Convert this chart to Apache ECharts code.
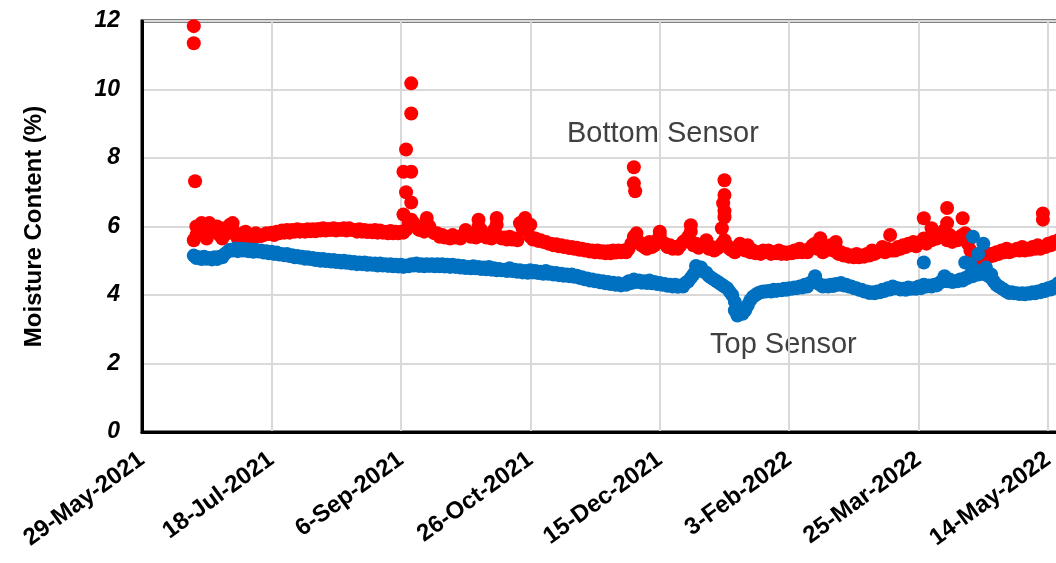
<!DOCTYPE html>
<html>
<head>
<meta charset="utf-8">
<script src="https://cdn.jsdelivr.net/npm/echarts@6/dist/echarts.min.js"></script>
<style>
  html, body { margin: 0; padding: 0; background: #fff; }
  #chart { width: 1056px; height: 563px; }
</style>
</head>
<body>
<div id="chart"></div>
<script>
// days counted from 29-May-2021; main readings on even days from day 20,
// second readings on odd days from day 21
const startDay = 20;
const stepDays = 2;

const tickLabels = ['29-May-2021', '18-Jul-2021', '6-Sep-2021', '26-Oct-2021', '15-Dec-2021',
    '3-Feb-2022', '25-Mar-2022', '14-May-2022', '3-Jul-2022'];

const topSensor = [
    5.15, 5.1, 5.12, 5.08, 5.1, 5.12, 5.2,
    5.32, 5.36, 5.35, 5.34, 5.33, 5.32, 5.3, 5.28,
    5.26, 5.24, 5.2, 5.2, 5.16, 5.14, 5.12, 5.1,
    5.08, 5.06, 5.05, 5.03, 5.02, 5.0, 5.0, 4.98,
    4.96, 4.95, 4.95, 4.93, 4.92, 4.92, 4.9, 4.9,
    4.88, 4.88, 4.86, 4.9, 4.92, 4.9, 4.9, 4.9,
    4.9, 4.9, 4.88, 4.88, 4.86, 4.85, 4.82, 4.84,
    4.82, 4.8, 4.82, 4.78, 4.76, 4.74, 4.78, 4.74,
    4.72, 4.7, 4.72, 4.7, 4.68, 4.7, 4.66, 4.64,
    4.62, 4.6, 4.6, 4.56, 4.52, 4.48, 4.45, 4.42,
    4.4, 4.38, 4.36, 4.34, 4.32, 4.4, 4.45, 4.42,
    4.4, 4.42, 4.38, 4.35, 4.32, 4.3, 4.3, 4.28,
    4.35, 4.5, 4.7, 4.8, 4.65, 4.5, 4.4, 4.3,
    4.2, 4.0, 3.6, 3.45, 3.7, 3.95, 4.05, 4.1,
    4.12, 4.15, 4.15, 4.18, 4.2, 4.22, 4.25, 4.3,
    4.35, 4.45, 4.3, 4.28, 4.3, 4.32, 4.35, 4.3,
    4.25, 4.2, 4.15, 4.1, 4.08, 4.1, 4.15, 4.2,
    4.25, 4.2, 4.18, 4.22, 4.2, 4.25, 4.3, 4.28,
    4.3, 4.35, 4.55, 4.45, 4.4, 4.45, 4.5, 4.6,
    4.65, 4.7, 4.6, 4.5, 4.3, 4.2, 4.1, 4.08,
    4.05, 4.05, 4.05, 4.08, 4.1, 4.15, 4.2, 4.25,
    4.35
];

const topSensorOdd = [
    5.08, 5.05, 5.06, 5.04, 5.05, 5.1, 5.26,
    5.3, 5.28, 5.3, 5.28, 5.26, 5.27, 5.24, 5.22,
    5.2, 5.18, 5.16, 5.14, 5.1, 5.09, 5.06, 5.05,
    5.02, 5.0, 4.99, 4.98, 4.96, 4.95, 4.94, 4.92,
    4.9, 4.9, 4.88, 4.88, 4.86, 4.86, 4.85, 4.84,
    4.83, 4.82, 4.84, 4.86, 4.85, 4.84, 4.85, 4.84,
    4.84, 4.83, 4.82, 4.82, 4.8, 4.79, 4.78, 4.78,
    4.76, 4.75, 4.74, 4.72, 4.72, 4.7, 4.7, 4.68,
    4.66, 4.65, 4.66, 4.64, 4.62, 4.62, 4.6, 4.58,
    4.56, 4.55, 4.53, 4.5, 4.46, 4.42, 4.4, 4.37,
    4.34, 4.32, 4.3, 4.28, 4.3, 4.35, 4.38, 4.36,
    4.35, 4.34, 4.32, 4.3, 4.27, 4.25, 4.24, 4.25,
    4.4, 4.6, 4.72, 4.68, 4.55, 4.45, 4.35, 4.25,
    4.1, 3.8, 3.5, 3.55, 3.85, 4.0, 4.08, 4.1,
    4.1, 4.12, 4.14, 4.15, 4.18, 4.2, 4.22, 4.25,
    4.38, 4.35, 4.25, 4.25, 4.26, 4.3, 4.28, 4.25,
    4.2, 4.15, 4.1, 4.06, 4.05, 4.08, 4.12, 4.16,
    4.2, 4.16, 4.15, 4.18, 4.18, 4.2, 4.25, 4.25,
    4.28, 4.4, 4.4, 4.38, 4.4, 4.42, 4.5, 4.55,
    4.6, 4.62, 4.55, 4.4, 4.25, 4.15, 4.06, 4.05,
    4.03, 4.02, 4.04, 4.05, 4.08, 4.12, 4.16, 4.22
];

const bottomSensor = [
    5.6, 5.95, 5.8, 6.05, 5.85, 5.75, 5.95,
    6.05, 5.8, 5.7, 5.85, 5.75, 5.8, 5.72, 5.8,
    5.82, 5.85, 5.88, 5.9, 5.9, 5.92, 5.9, 5.92,
    5.92, 5.93, 5.95, 5.93, 5.95, 5.93, 5.95, 5.95,
    5.9, 5.92, 5.9, 5.88, 5.9, 5.88, 5.85, 5.87,
    5.85, 5.85, 5.9, 6.2, 6.0, 5.95, 6.1, 5.85,
    5.8, 5.75, 5.7, 5.75, 5.7, 5.72, 5.78, 5.75,
    6.0, 5.75, 5.72, 5.9, 5.7, 5.68, 5.7, 5.65,
    6.1, 5.9, 5.7, 5.65, 5.6, 5.55, 5.5, 5.48,
    5.45, 5.42, 5.4, 5.38, 5.35, 5.32, 5.3, 5.3,
    5.28, 5.28, 5.3, 5.3, 5.3, 5.35, 5.7, 5.55,
    5.4, 5.55, 5.45, 5.75, 5.5, 5.45, 5.4, 5.45,
    5.6, 5.85, 5.5, 5.45, 5.6, 5.4, 5.35, 5.5,
    5.45, 5.3, 5.4, 5.35, 5.45, 5.3, 5.25, 5.3,
    5.3, 5.25, 5.3, 5.25, 5.25, 5.3, 5.35, 5.3,
    5.35, 5.5, 5.4, 5.3, 5.45, 5.35, 5.25, 5.2,
    5.15, 5.2, 5.15, 5.2, 5.3, 5.25, 5.4, 5.35,
    5.3, 5.4, 5.45, 5.5, 5.55, 5.5, 5.65, 5.6,
    5.7, 5.8, 5.9, 5.75, 5.65, 5.7, 5.8, 5.3,
    5.05, 5.1, 5.15, 5.2, 5.25, 5.3, 5.35, 5.3,
    5.35, 5.4, 5.35, 5.4, 5.45, 5.4, 5.5, 5.55,
    5.6
];

const bottomSensorOdd = [
    5.75, 6.1, 5.65, 5.9, 6.0, 5.65, 5.8,
    5.9, 5.65, 5.8, 5.7, 5.68, 5.72, 5.75, 5.78,
    5.75, 5.8, 5.82, 5.82, 5.85, 5.85, 5.85, 5.86,
    5.86, 5.88, 5.88, 5.9, 5.88, 5.9, 5.88, 5.9,
    5.85, 5.85, 5.84, 5.83, 5.82, 5.82, 5.8, 5.8,
    5.8, 5.82, 6.0, 6.1, 5.9, 5.85, 6.0, 5.8,
    5.7, 5.68, 5.65, 5.68, 5.65, 5.9, 5.7, 5.68,
    5.9, 5.68, 5.65, 6.05, 5.65, 5.62, 5.62, 5.6,
    5.95, 6.0, 5.62, 5.58, 5.55, 5.5, 5.45, 5.42,
    5.4, 5.37, 5.35, 5.32, 5.3, 5.27, 5.25, 5.24,
    5.22, 5.22, 5.24, 5.25, 5.25, 5.5, 5.6, 5.45,
    5.35, 5.4, 5.6, 5.55, 5.4, 5.35, 5.35, 5.55,
    5.7, 5.45, 5.38, 5.5, 5.35, 5.3, 5.4, 5.6,
    5.35, 5.25, 5.5, 5.3, 5.25, 5.22, 5.2, 5.25,
    5.2, 5.22, 5.2, 5.2, 5.22, 5.25, 5.25, 5.25,
    5.45, 5.35, 5.25, 5.4, 5.3, 5.2, 5.15, 5.12,
    5.1, 5.1, 5.12, 5.15, 5.2, 5.3, 5.25, 5.3,
    5.3, 5.35, 5.4, 5.45, 5.42, 5.55, 5.5, 5.6,
    5.65, 5.75, 5.6, 5.55, 5.6, 5.75, 5.5, 5.1,
    5.0, 5.05, 5.1, 5.15, 5.2, 5.25, 5.25, 5.3,
    5.3, 5.3, 5.32, 5.35, 5.35, 5.4, 5.45, 5.55
];

// extra readings (spikes and stray points): [day, value]
const topExtra = [
    [214, 4.85], [229, 3.55], [230, 3.4], [260, 4.55], [302, 4.95],
    [318, 4.95], [320, 4.9], [321, 5.7], [323, 5.2], [325, 5.5], [326, 4.8], [328, 4.6]
];

const bottomExtra = [
    [20, 11.85], [20, 11.35], [20.5, 7.32], [21, 6.0], [26, 6.1], [35, 6.1],
    [104, 10.18], [104, 9.3], [102, 8.25], [101, 7.6], [104, 7.6], [102, 7.0],
    [104, 6.7], [101, 6.35], [103, 6.1], [110, 6.25], [130, 6.2], [137, 6.25],
    [148, 6.25], [150, 6.05], [190, 7.73], [190, 7.26], [190.5, 7.03], [191, 5.8],
    [200, 5.85], [212, 6.04], [225, 7.35], [225, 6.92], [224.5, 6.68], [225, 6.45],
    [225, 6.27], [224, 5.95], [262, 5.66], [268, 5.55], [289, 5.75], [302, 6.24],
    [305, 5.95], [311, 6.54], [311, 6.1], [317, 6.24], [327, 5.2], [348, 6.38], [348, 6.2]
];

function toPoints(even, odd, extra) {
    const a = even.map((v, i) => [startDay + i * stepDays, v]);
    const b = odd.map((v, i) => [startDay + 1 + i * stepDays, v]);
    return a.concat(b, extra);
}

const chart = echarts.init(document.getElementById('chart'));

const font = '"Liberation Sans", Arial, sans-serif';

const option = {
    animation: false,
    grid: {
        left: 142,
        top: 21,
        bottom: 131,
        right: -121.5,
        outerBoundsMode: 'none',
        containLabel: false,
        show: true,
        borderColor: '#000',
        borderWidth: 3
    },
    xAxis: {
        type: 'value',
        min: 0,
        max: 400,
        interval: 50,
        axisLine: { show: true, onZero: false, lineStyle: { color: '#000', width: 3 } },
        axisTick: { show: false },
        splitLine: { show: true, lineStyle: { color: '#d9d9d9', width: 2 } },
        axisLabel: {
            rotate: 36,
            margin: 25,
            fontFamily: font,
            fontWeight: 'bold',
            fontSize: 24,
            color: '#000',
            formatter: v => tickLabels[Math.round(v / 50)] || ''
        }
    },
    yAxis: {
        type: 'value',
        min: 0,
        max: 12,
        interval: 2,
        name: 'Moisture Content (%)',
        nameLocation: 'middle',
        nameGap: 96,
        nameTextStyle: { fontFamily: font, fontWeight: 'bold', fontSize: 24, color: '#000' },
        axisLine: { show: true, lineStyle: { color: '#000', width: 3 } },
        axisTick: { show: false },
        splitLine: { show: true, lineStyle: { color: '#d9d9d9', width: 2 } },
        axisLabel: {
            margin: 22,
            fontFamily: font,
            fontWeight: 'bold',
            fontStyle: 'italic',
            fontSize: 23,
            color: '#000'
        }
    },
    series: [
        {
            name: 'Bottom Sensor',
            type: 'scatter',
            symbolSize: 14,
            itemStyle: { color: '#ff0000', opacity: 1 },
            data: toPoints(bottomSensor, bottomSensorOdd, bottomExtra)
        },
        {
            name: 'Top Sensor',
            type: 'scatter',
            symbolSize: 14,
            itemStyle: { color: '#0070c0', opacity: 1 },
            data: toPoints(topSensor, topSensorOdd, topExtra)
        }
    ],
    graphic: [
        {
            type: 'text',
            left: 567,
            top: 119,
            style: { text: 'Bottom Sensor', font: '29px ' + font, fill: '#404040' }
        },
        {
            type: 'text',
            left: 710,
            top: 330,
            style: { text: 'Top Sensor', font: '29px ' + font, fill: '#404040' }
        }
    ]
};

chart.setOption(option);
</script>
</body>
</html>
